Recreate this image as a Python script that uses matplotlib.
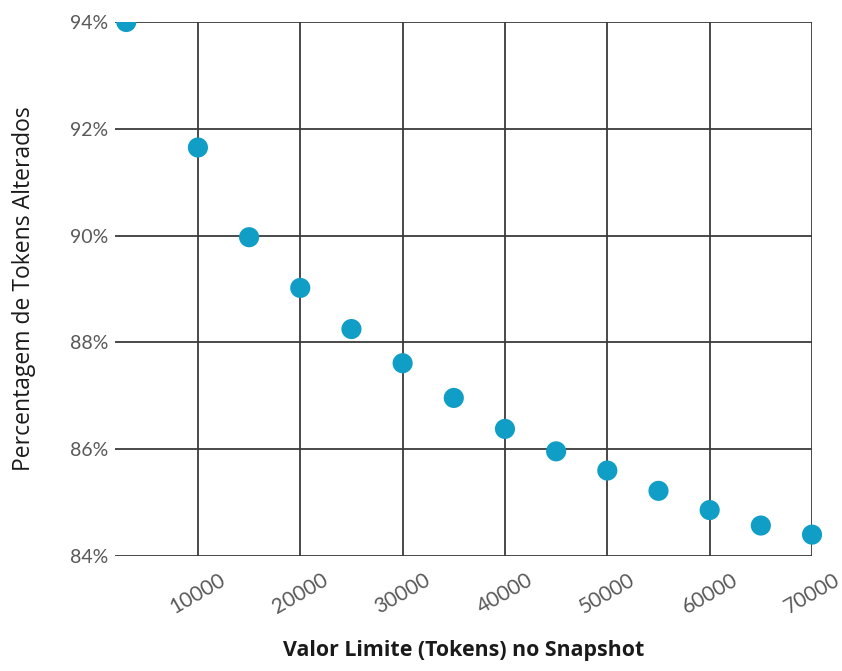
import matplotlib

matplotlib.use("Agg")
import matplotlib.pyplot as plt
from matplotlib.patches import Rectangle
from matplotlib.ticker import FuncFormatter

# snapshot limit (tokens) and share of altered tokens (%)
limits = [3000, 10000, 15000, 20000, 25000, 30000, 35000,
          40000, 45000, 50000, 55000, 60000, 65000, 70000]
altered_pct = [94.0, 91.65, 89.97, 89.02, 88.25, 87.61, 86.96,
               86.38, 85.96, 85.6, 85.22, 84.86, 84.57, 84.4]
x_ticks = [10000, 20000, 30000, 40000, 50000, 60000, 70000]
y_ticks = [84, 86, 88, 90, 92, 94]

fig = plt.figure(figsize=(8.42, 6.71), dpi=100)
ax = fig.add_axes([0.1366, 0.1714, 0.8278, 0.7958])

pts = ax.scatter(limits, altered_pct, s=210, color="#119ec6",
                 edgecolors="none", zorder=3)
# clip only along the top edge, like the original
clip = Rectangle((-0.1, -0.1), 1.2, 1.1, transform=ax.transAxes)
pts.set_clip_path(clip)

ax.set_xlim(1900, 70000)
ax.set_ylim(84, 94)
ax.set_xticks(x_ticks)
ax.set_yticks(y_ticks)
ax.yaxis.set_major_formatter(FuncFormatter(lambda v, _: f"{v:.0f}%"))

for s in ax.spines.values():
    s.set_visible(False)
ax.grid(True, color="#3a3a3a", linewidth=1.3)
ax.set_axisbelow(True)
ax.tick_params(axis="y", length=0, pad=5, labelsize=14, labelcolor="#595959")
ax.tick_params(axis="x", length=0, pad=10, labelsize=15, labelcolor="#595959")
for lbl in ax.get_xticklabels():
    lbl.set_rotation(30)
    lbl.set_ha("center")
    lbl.set_family("Lato")
for lbl in ax.get_yticklabels():
    lbl.set_family("Lato")

ax.set_xlabel("Valor Limite (Tokens) no Snapshot", fontsize=15.4,
              fontweight="bold", family="Open Sans", color="#1a1a1a", labelpad=16)
ax.set_ylabel("Percentagem de Tokens Alterados", fontsize=16.5,
              family="Open Sans", color="#1a1a1a", labelpad=24)

fig.savefig("out.png", dpi=100)
